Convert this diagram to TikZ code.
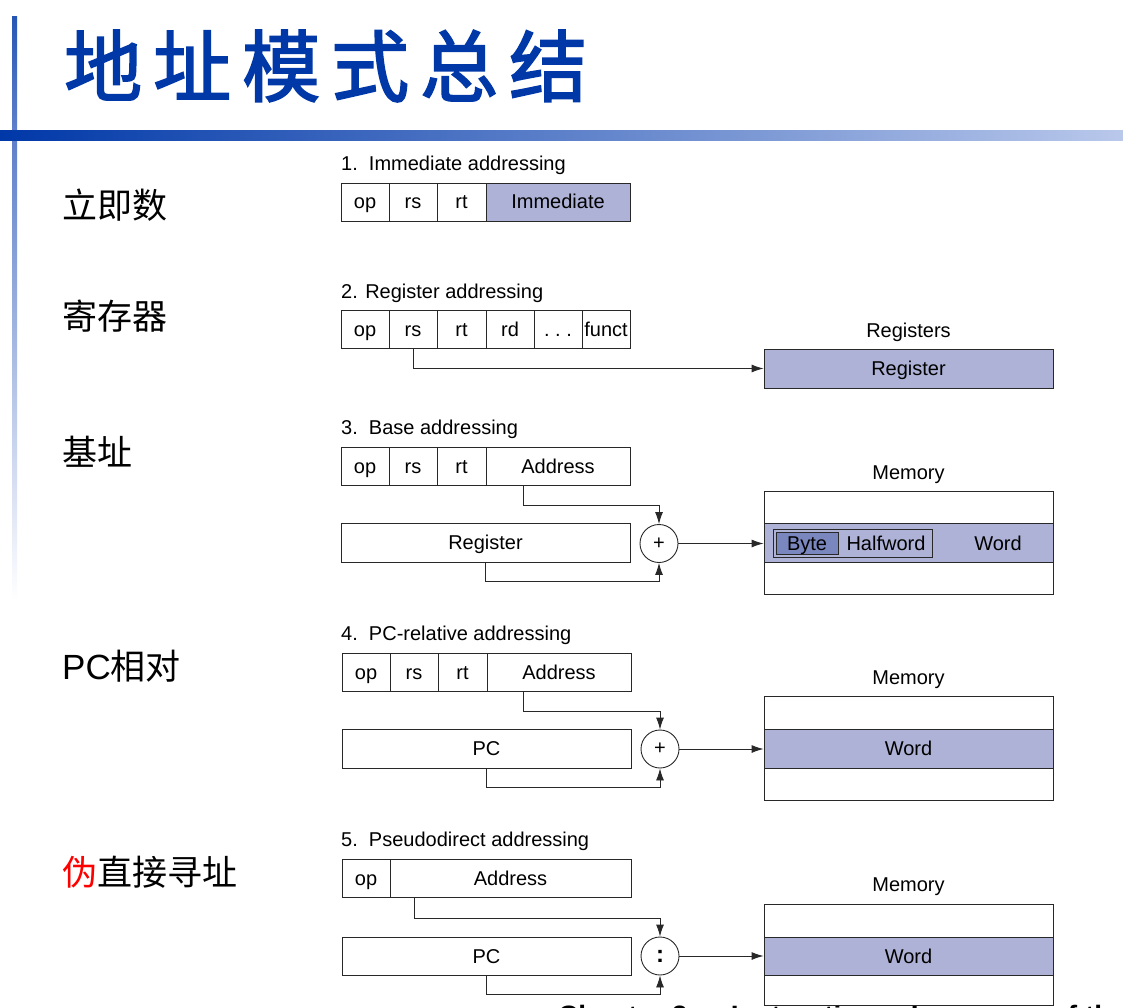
\documentclass[tikz,border=0pt]{standalone}
\usepackage{fontspec}
\setmainfont{Liberation Sans}
\newfontfamily\cjk{Noto Sans CJK SC}
\newfontfamily\cjktitle[FakeBold=2.2]{Noto Sans CJK SC}
\usetikzlibrary{arrows.meta,calc}
\definecolor{lav}{RGB}{173,178,214}
\definecolor{bytec}{RGB}{122,134,190}
\definecolor{linec}{RGB}{40,40,40}
\definecolor{titleblue}{RGB}{0,56,168}
\definecolor{barlight}{RGB}{185,200,235}
\definecolor{barmid}{RGB}{95,128,202}
\begin{document}
\begin{tikzpicture}[x=1pt,y=-1pt,
 txt/.style={font=\fontsize{20}{24}\selectfont, text height=14pt, text depth=0pt},
 cell/.style={txt, draw=linec, line width=0.9pt, inner sep=0pt, minimum height=38pt},
 hl/.style={cell, fill=lav},
 opc/.style={circle, draw=linec, line width=0.9pt, minimum size=38pt, inner sep=0pt, font=\fontsize{20}{24}\selectfont},
 head/.style={txt, anchor=west, inner sep=0pt},
 lab/.style={txt, inner sep=0pt},
 side/.style={anchor=west, inner sep=0pt, font=\fontsize{35}{40}\selectfont},
 conn/.style={draw=linec, line width=0.9pt},
 arr/.style={conn, -{Latex[length=12pt,width=8pt]}}]
\useasboundingbox (0,0) rectangle (1123,1008);
\fill[white] (0,0) rectangle (1123,1008);
% decorative bars
\shade[top color=titleblue!85, bottom color=barmid] (12,17) rectangle (17,131);
\shade[top color=barmid, bottom color=white] (12,141) rectangle (17,600);
\shade[left color=titleblue, right color=barlight] (0,131) rectangle (1123,141);
% title
\node[anchor=west, inner sep=0pt, text=titleblue, font=\cjktitle\fontsize{78}{90}\selectfont] (title) at (64,66) {地\hspace{11pt}址\hspace{11pt}模\hspace{11pt}式\hspace{11pt}总\hspace{11pt}结};
% side labels
\node[side] (l1) at (62,205) {\cjk 立即数};
\node[side] (l2) at (62,316) {\cjk 寄存器};
\node[side] (l3) at (62,452) {\cjk 基址};
\node[side] (l4) at (62,666) {PC{\cjk 相对}};
\node[side] (l5) at (62,872) {\cjk\textcolor{red}{伪}直接寻址};
% footer (partly cut off)
\node[anchor=base west, inner sep=0pt, font=\bfseries\fontsize{28}{32}\selectfont] (foot) at (558,1025) {Chapter 2 — Instructions: Language of the Computer};
% 1. Immediate
\node[head] (h1) at (341,164) {1.\ \ Immediate addressing};
\node[cell, minimum width=48pt] (op1) at (365,202) {op};
\node[cell, minimum width=48pt] (rs1) at (413,202) {rs};
\node[cell, minimum width=49pt] (rt1) at (461.5,202) {rt};
\node[hl, minimum width=144pt] (im1) at (558,202) {Immediate};
% 2. Register
\node[head] (h2) at (341,291) {2. Register addressing};
\node[cell, minimum width=48pt] (op2) at (365,329) {op};
\node[cell, minimum width=48pt] (rs2) at (413,329) {rs};
\node[cell, minimum width=49pt] (rt2) at (461.5,329) {rt};
\node[cell, minimum width=48pt] (rd2) at (510,329) {rd};
\node[cell, minimum width=48pt] (dt2) at (558,329) {.\ .\ .};
\node[cell, minimum width=48pt] (fn2) at (606,329) {funct};
\node[lab] (regs) at (908.5,330) {Registers};
\node[hl, minimum width=289pt, minimum height=39pt] (reg2) at (908.5,368.5) {Register};
\draw[arr] (rs2.south) |- (reg2.west);
% 3. Base
\node[head] (h3) at (341,427) {3.\ \ Base addressing};
\node[cell, minimum width=48pt] (op3) at (365,466) {op};
\node[cell, minimum width=48pt] (rs3) at (413,466) {rs};
\node[cell, minimum width=49pt] (rt3) at (461.5,466) {rt};
\node[cell, minimum width=144pt] (ad3) at (558,466) {Address};
\node[cell, minimum width=289pt, minimum height=39pt] (reg3) at (485.5,542.5) {Register};
\node[opc] (p3) at (659,543.5) {+};
\draw[arr] ([xshift=38pt]ad3.south west) -- ++(0,20) -| (p3.north);
\draw[arr] (reg3.south) -- ++(0,19) -| (p3.south);
\node[lab] (m3l) at (908.5,472) {Memory};
\node[cell, minimum width=289pt, minimum height=32pt] (m3a) at (908.5,507) {};
\node[hl, minimum width=289pt, minimum height=39pt] (m3b) at (908.5,542.5) {};
\node[cell, minimum width=289pt, minimum height=32pt] (m3c) at (908.5,578) {};
\draw[arr] (p3.east) -- (p3.east -| m3b.west);
\node[draw=linec, line width=0.9pt, inner sep=0pt, minimum width=159pt, minimum height=28pt] (hw) at (852.5,543) {};
\node[txt, draw=linec, line width=0.9pt, fill=bytec, inner sep=0pt, minimum width=62pt, minimum height=22pt] (by) at (807,543) {Byte};
\node[lab] (hwt) at (886,543) {Halfword};
\node[lab] (wd3) at (998,543) {Word};
% 4. PC-relative
\node[head] (h4) at (341,633) {4.\ \ PC-relative addressing};
\node[cell, minimum width=48pt] (op4) at (366,672) {op};
\node[cell, minimum width=48pt] (rs4) at (414,672) {rs};
\node[cell, minimum width=49pt] (rt4) at (462.5,672) {rt};
\node[cell, minimum width=144pt] (ad4) at (559,672) {Address};
\node[cell, minimum width=289pt, minimum height=39pt] (pc4) at (486.5,748.5) {PC};
\node[opc] (p4) at (660,749) {+};
\draw[arr] ([xshift=37pt]ad4.south west) -- ++(0,20) -| (p4.north);
\draw[arr] (pc4.south) -- ++(0,19) -| (p4.south);
\node[lab] (m4l) at (908.5,677) {Memory};
\node[cell, minimum width=289pt, minimum height=33pt] (m4a) at (908.5,712.5) {};
\node[hl, minimum width=289pt, minimum height=39pt] (m4b) at (908.5,748.5) {Word};
\node[cell, minimum width=289pt, minimum height=32pt] (m4c) at (908.5,784) {};
\draw[arr] (p4.east) -- (p4.east -| m4b.west);
% 5. Pseudodirect
\node[head] (h5) at (341,839) {5.\ \ Pseudodirect addressing};
\node[cell, minimum width=48pt] (op5) at (366,878.5) {op};
\node[cell, minimum width=241pt] (ad5) at (510.5,878.5) {Address};
\node[cell, minimum width=289pt, minimum height=38pt] (pc5) at (486.5,956) {PC};
\node[opc, font=\bfseries\fontsize{24}{28}\selectfont] (c5) at (660,956) {:};
\draw[arr] ([xshift=25pt]ad5.south west) -- ++(0,20) -| (c5.north);
\draw[arr] (pc5.south) -- ++(0,19) -| (c5.south);
\node[lab] (m5l) at (908.5,884) {Memory};
\node[cell, minimum width=289pt, minimum height=33pt] (m5a) at (908.5,920.5) {};
\node[hl, minimum width=289pt, minimum height=38pt] (m5b) at (908.5,956) {Word};
\node[cell, fill=white, minimum width=289pt, minimum height=30pt] (m5c) at (908.5,990) {};
\draw[arr] (c5.east) -- (c5.east -| m5b.west);
\end{tikzpicture}
\end{document}
